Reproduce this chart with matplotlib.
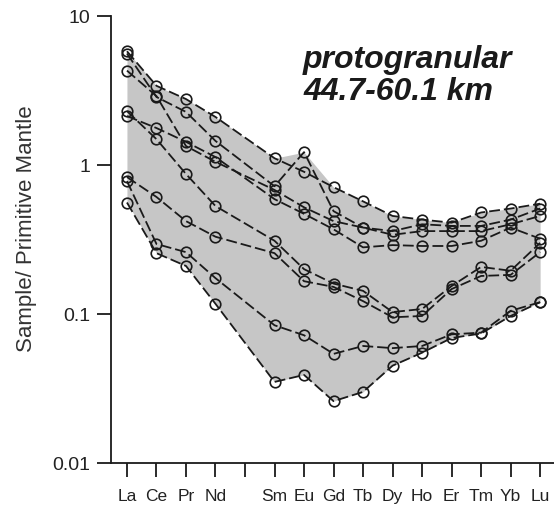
import numpy as np
import matplotlib
matplotlib.use("Agg")
from matplotlib import pyplot as plt
from matplotlib.ticker import FixedLocator, NullLocator

plt.rcParams['font.family'] = ['Liberation Sans', 'DejaVu Sans']

# REE order, Pm has no data (gap on the axis)
elements = ['La', 'Ce', 'Pr', 'Nd', 'Pm', 'Sm', 'Eu', 'Gd', 'Tb', 'Dy', 'Ho', 'Er', 'Tm', 'Yb', 'Lu']
measured = [e for e in elements if e != 'Pm']

# sample / primitive mantle, one list per sample (La ... Lu without Pm)
s1 = [5.8, 3.4, 2.77, 2.1, 1.11, 0.90, 0.71, 0.57, 0.455, 0.43, 0.41, 0.48, 0.51, 0.55]
s2 = [5.6, 2.86, 2.27, 1.45, 0.72, 1.22, 0.49, 0.38, 0.36, 0.40, 0.39, 0.39, 0.43, 0.51]
s3 = [4.3, 2.9, 1.34, 1.05, 0.68, 0.52, 0.42, 0.38, 0.34, 0.36, 0.36, 0.36, 0.40, 0.455]
s4 = [2.13, 1.77, 1.43, 1.13, 0.59, 0.47, 0.37, 0.28, 0.29, 0.286, 0.286, 0.31, 0.38, 0.32]
s5 = [2.3, 1.49, 0.87, 0.53, 0.31, 0.20, 0.16, 0.143, 0.103, 0.108, 0.154, 0.207, 0.195, 0.30]
s6 = [0.83, 0.61, 0.42, 0.33, 0.256, 0.166, 0.152, 0.122, 0.095, 0.097, 0.147, 0.18, 0.183, 0.26]
s7 = [0.78, 0.295, 0.26, 0.174, 0.084, 0.072, 0.054, 0.061, 0.059, 0.061, 0.073, 0.075, 0.105, 0.12]
s8 = [0.56, 0.256, 0.21, 0.117, 0.035, 0.039, 0.026, 0.030, 0.045, 0.055, 0.069, 0.074, 0.097, 0.12]
samples = [s1, s2, s3, s4, s5, s6, s7, s8]

x = [elements.index(e) for e in measured]
data = np.array(samples)

fig = plt.figure(figsize=(5.54, 5.10), dpi=100)
ax = fig.add_axes([0.2004, 0.0902, 0.7996, 0.8765])

ax.fill_between(x, data.min(axis=0), data.max(axis=0), color='#c6c6c6', lw=0, zorder=1)

ink = '#1a1a1a'
for s in samples:
    ax.plot(x, s, color=ink, lw=1.3, ls=(0, (6, 2.2)), zorder=2)
for s in samples:
    ax.plot(x, s, ls='none', marker='o', ms=7.6, mfc='none', mec=ink, mew=1.2, zorder=4)

ax.set_yscale('log')
ax.set_ylim(0.01, 10)
ax.set_xlim(-0.54, 14.47)
ax.yaxis.set_major_locator(FixedLocator([0.01, 0.1, 1, 10]))
ax.yaxis.set_minor_locator(NullLocator())
ax.set_yticklabels(['0.01', '0.1', '1', '10'], fontsize=14, color='#222222')
ax.set_xticks(range(len(elements)))
ax.set_xticklabels([e if e != 'Pm' else '' for e in elements], fontsize=12.5, color='#222222')

ax.spines['top'].set_visible(False)
ax.spines['right'].set_visible(False)
for sp in ['left', 'bottom']:
    ax.spines[sp].set_linewidth(1.3)
    ax.spines[sp].set_color(ink)
ax.tick_params(axis='both', direction='out', length=10, width=1.3, color=ink)
ax.tick_params(axis='y', pad=5)
ax.tick_params(axis='x', pad=8)

ax.set_ylabel('Sample/ Primitive Mantle', fontsize=16, color='#333333')
ax.yaxis.set_label_coords(-0.167, 0.526)

ax.text(5.97, 6.5, 'protogranular\n44.7-60.1 km', fontsize=23, fontweight='bold',
        fontstyle='italic', ha='left', va='top', linespacing=1.1, color=ink)

fig.savefig('out.png', dpi=100)
